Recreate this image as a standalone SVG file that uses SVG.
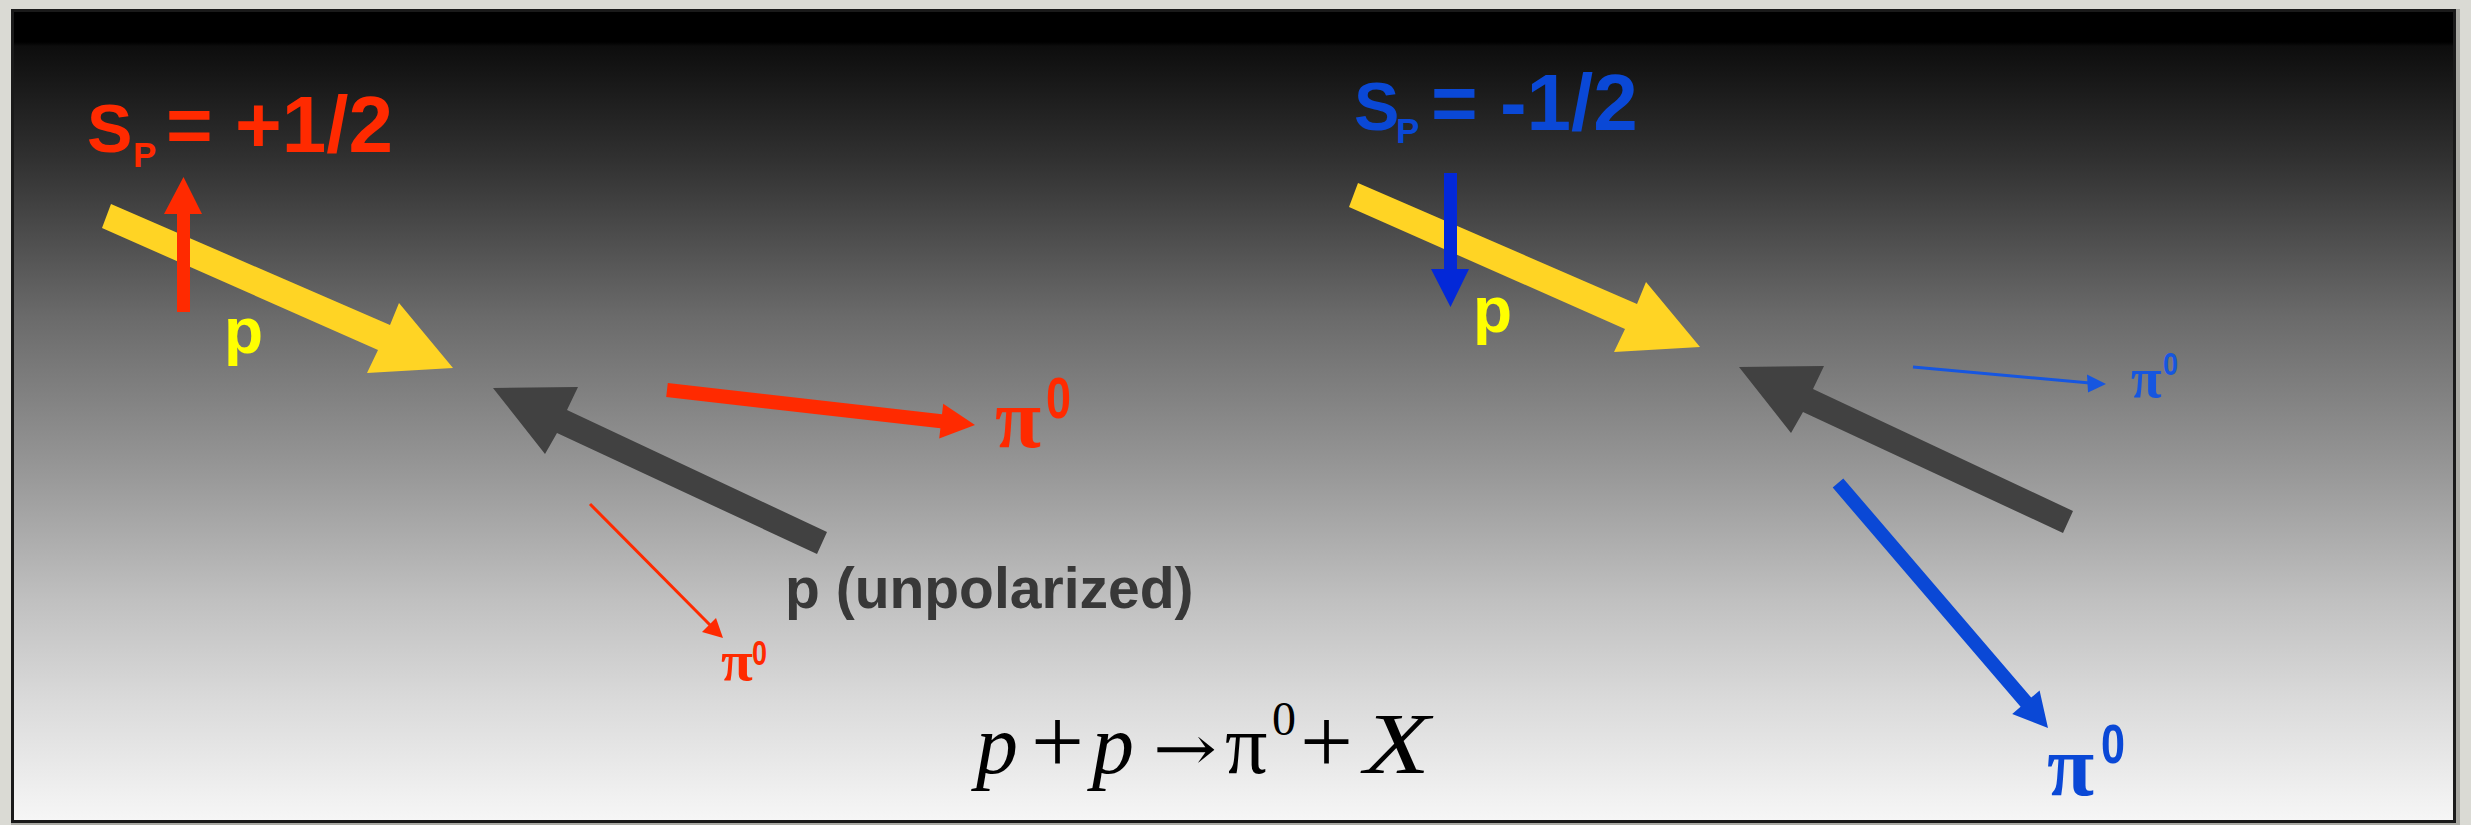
<svg xmlns="http://www.w3.org/2000/svg" width="2471" height="825" viewBox="0 0 2471 825">
  <defs>
    <linearGradient id="bgGrad" x1="0" y1="0" x2="0" y2="1">
      <stop offset="0" stop-color="#000000"/>
      <stop offset="0.039" stop-color="#000000"/>
      <stop offset="0.044" stop-color="#0d0d0d"/>
      <stop offset="0.185" stop-color="#313131"/>
      <stop offset="0.376" stop-color="#6a6a6a"/>
      <stop offset="0.579" stop-color="#9a9a9a"/>
      <stop offset="0.727" stop-color="#c0c0c0"/>
      <stop offset="0.85" stop-color="#dadada"/>
      <stop offset="1" stop-color="#f6f6f6"/>
    </linearGradient>
    <style>
      .sans { font-family: "Liberation Sans", Arial, sans-serif; font-weight: bold; }
      .serif { font-family: "Liberation Serif", "Times New Roman", serif; }
      .red { fill: #ff2a00; }
      .blue { fill: #0a48d6; }
      .yellow { fill: #ffd424; }
      .grey { fill: #414141; }
      .thinred { stroke: #ff2a00; stroke-width: 3; fill: none; }
      .thinblue { stroke: #1656e0; stroke-width: 3; fill: none; }
    </style>
  </defs>

  <!-- page background and panel -->
  <rect x="0" y="0" width="2471" height="825" fill="#dadad4"/>
  <rect x="11" y="9" width="2449" height="816" fill="#a9a9a3"/>
  <rect x="12.5" y="10.5" width="2442" height="811" fill="url(#bgGrad)" stroke="#1a1a1a" stroke-width="3"/>

  <!-- connectors / arrows -->
  <g id="connectors">
    <!-- left incoming polarized proton (yellow) -->
    <polygon class="yellow" points="111,204 390,325 399,303 453,368 367,373 378,350 102,228"/>
    <!-- left spin up (red) -->
    <polygon class="red" points="177,312 177,214 164,214 183.5,177 202,214 190,214 190,312"/>
    <!-- left unpolarized proton (grey) -->
    <polygon class="grey" points="493,388 578,387 567,410 827,532 817,554 557,433 545,454"/>
    <!-- left big pi0 (red) -->
    <polygon class="red" points="667.8,383 942,414.2 943.2,403.8 975,425 939.2,438.6 940.4,428.2 666.2,397"/>
    <!-- left small pi0 (red thin) -->
    <line class="thinred" x1="590" y1="504" x2="712" y2="627"/>
    <polygon class="red" points="723,638 702,632 716,618"/>

    <!-- right incoming polarized proton (yellow) -->
    <polygon class="yellow" points="1358,183 1637,304 1646,282 1700,347 1614,352 1625,329 1349,207"/>
    <!-- right spin down (blue) -->
    <polygon fill="#0328d8" points="1444,173 1457,173 1457,269 1469,269 1450.5,307 1431,269 1444,269"/>
    <!-- right unpolarized proton (grey) -->
    <polygon class="grey" points="1739,367 1824,366 1813,389 2073,511 2063,533 1803,412 1791,433"/>
    <!-- right small pi0 (blue thin) -->
    <line class="thinblue" x1="1913" y1="367" x2="2090" y2="383"/>
    <polygon fill="#1656e0" points="2106,384 2087,374.5 2088,392.5"/>
    <!-- right big pi0 (blue) -->
    <polygon class="blue" points="1843.3,478.4 2031.2,697.6 2039.6,690.5 2048,728 2012.2,713.9 2020.6,706.8 1832.7,487.6"/>
  </g>

  <!-- left spin label -->
  <g id="label-spin-plus">
    <text class="sans red" x="87" y="152" font-size="68">S</text>
    <text class="sans red" x="133" y="167" font-size="35">P</text>
    <text class="sans red" x="166" y="152" font-size="80">= +1/2</text>
  </g>

  <!-- right spin label -->
  <g id="label-spin-minus">
    <text class="sans blue" x="1354" y="130" font-size="68">S</text>
    <text class="sans blue" x="1396" y="143" font-size="35">P</text>
    <text class="sans blue" x="1431" y="130" font-size="80">= -1/2</text>
  </g>

  <!-- yellow p labels -->
  <g id="label-p-left">
    <text class="sans" fill="#ffff00" x="224" y="353" font-size="64">p</text>
  </g>
  <g id="label-p-right">
    <text class="sans" fill="#ffff00" x="1473" y="332" font-size="64">p</text>
  </g>

  <!-- unpolarized label -->
  <g id="label-unpolarized">
    <text class="sans" fill="#383838" x="785" y="608" font-size="57">p (unpolarized)</text>
  </g>

  <!-- pi0 labels -->
  <g id="label-pi0-left-big">
    <text class="serif red" font-weight="bold" x="995" y="447" font-size="84">π</text>
    <text class="sans red" x="1046" y="418" font-size="57" textLength="25" lengthAdjust="spacingAndGlyphs">0</text>
  </g>
  <g id="label-pi0-left-small">
    <text class="serif red" font-weight="bold" x="721" y="680" font-size="58">π</text>
    <text class="sans red" x="752" y="665" font-size="35" textLength="15" lengthAdjust="spacingAndGlyphs">0</text>
  </g>
  <g id="label-pi0-right-small">
    <text class="serif" font-weight="bold" fill="#1656e0" x="2131" y="397" font-size="56">π</text>
    <text class="sans" fill="#1656e0" x="2163" y="375" font-size="31" textLength="15" lengthAdjust="spacingAndGlyphs">0</text>
  </g>
  <g id="label-pi0-right-big">
    <text class="serif blue" font-weight="bold" x="2047" y="795" font-size="86">π</text>
    <text class="sans blue" x="2101" y="763" font-size="56" textLength="24" lengthAdjust="spacingAndGlyphs">0</text>
  </g>

  <!-- reaction equation -->
  <g id="equation" class="serif" fill="#000000">
    <text x="976" y="773" font-size="84" font-style="italic">p</text>
    <text x="1031" y="773" font-size="94">+</text>
    <text x="1092" y="773" font-size="84" font-style="italic">p</text>
    <text x="1153" y="770" font-size="62" font-family="DejaVu Serif, serif" textLength="64" lengthAdjust="spacingAndGlyphs">→</text>
    <text x="1225" y="773" font-size="84">π</text>
    <text x="1272" y="735" font-size="48">0</text>
    <text x="1300" y="773" font-size="94">+</text>
    <text x="1364" y="773" font-size="86" font-style="italic" textLength="66" lengthAdjust="spacingAndGlyphs">X</text>
  </g>
</svg>
